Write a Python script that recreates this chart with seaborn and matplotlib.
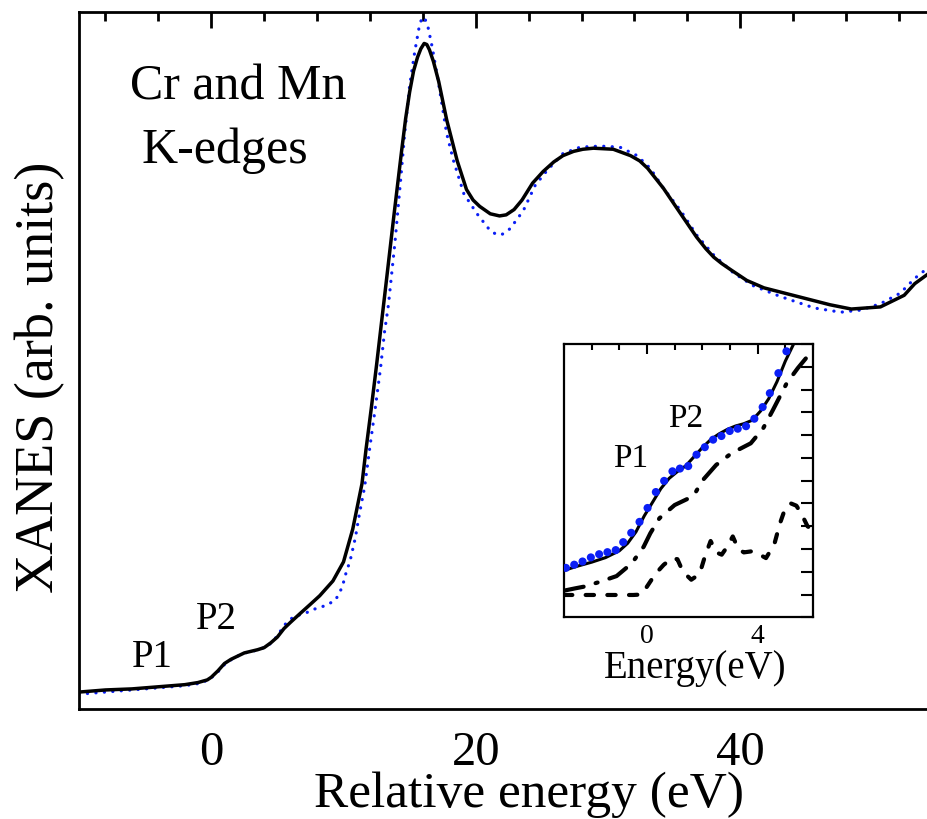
import matplotlib
matplotlib.use("Agg")
import matplotlib.pyplot as plt
from matplotlib.ticker import MultipleLocator, FixedLocator, NullFormatter
import pandas as pd
import seaborn as sns

# ---------------- main panel data ----------------
energy_exp = [-10, -8, -6, -4, -2, -1, -0.3, 0, 0.5, 1.0, 1.5, 2.0, 2.5, 3.0, 3.5, 4.0,
              4.5, 5.0, 5.5, 6.0, 6.7, 7.5, 8.2, 9.2, 10.0, 10.7, 11.4, 11.7, 12.1, 12.5,
              12.9, 13.2, 13.8, 14.4, 14.7, 15.0, 15.3, 15.6, 15.85, 16.1, 16.3, 16.5, 16.8,
              17.2, 17.8, 18.6, 19.3, 19.8, 20.3, 21.1, 21.8, 22.3, 22.9, 23.5, 24.3, 25.1,
              25.9, 26.6, 27.4, 28.1, 28.9, 30.4, 31.7, 32.4, 33.0, 34.2, 35.5, 36.7, 37.4,
              38.0, 38.6, 39.3, 40.5, 41.8, 44.3, 46.8, 48.4, 50.6, 52.4, 53.2, 54.3]
xanes_exp = [-0.04, -0.02, -0.01, 0.01, 0.03, 0.05, 0.075, 0.10, 0.16, 0.23, 0.27, 0.30, 0.33,
             0.345, 0.36, 0.38, 0.425, 0.48, 0.56, 0.62, 0.70, 0.79, 0.87, 1.01, 1.19, 1.50,
             1.93, 2.25, 2.64, 3.05, 3.48, 3.80, 4.45, 5.08, 5.38, 5.63, 5.83, 5.96, 6.04,
             6.09, 6.08, 6.03, 5.92, 5.73, 5.37, 4.98, 4.71, 4.61, 4.55, 4.48, 4.46, 4.47,
             4.52, 4.61, 4.77, 4.88, 4.97, 5.03, 5.07, 5.09, 5.10, 5.09, 5.03, 4.98, 4.91,
             4.72, 4.48, 4.26, 4.15, 4.07, 4.01, 3.95, 3.85, 3.78, 3.70, 3.62, 3.58, 3.60,
             3.71, 3.82, 3.92]

energy_calc = [-10, -8, -6, -4, -2, -1, -0.3, 0, 0.5, 1.0, 1.5, 2.0, 2.5, 3.0, 3.5, 4.0, 4.5,
               5.0, 5.5, 6.2, 7.2, 7.7, 8.7, 9.4, 9.9, 10.2, 10.5, 10.9, 11.2, 11.6, 12.0,
               12.4, 12.8, 13.1, 13.4, 13.9, 14.3, 14.6, 15.0, 15.4, 15.7, 15.85, 16.0, 16.2,
               16.4, 16.7, 17.1, 17.4, 17.8, 18.3, 19.1, 20.1, 21.1, 21.5, 21.9, 22.2, 22.6,
               23.6, 24.5, 25.4, 26.6, 27.9, 29.4, 30.9, 32.2, 33.2, 34.2, 35.5, 36.7, 38.0,
               39.5, 41.0, 43.0, 45.6, 47.6, 49.1, 50.6, 52.1, 53.2, 54.3]
xanes_calc = [-0.06, -0.04, -0.02, 0.0, 0.02, 0.04, 0.07, 0.095, 0.15, 0.22, 0.265, 0.30, 0.33,
              0.34, 0.36, 0.38, 0.42, 0.49, 0.59, 0.67, 0.71, 0.74, 0.78, 0.83, 0.95, 1.09,
              1.20, 1.42, 1.64, 1.90, 2.28, 2.64, 3.02, 3.36, 3.62, 4.22, 4.77, 5.20, 5.69,
              6.02, 6.23, 6.30, 6.34, 6.31, 6.24, 6.06, 5.78, 5.55, 5.24, 4.99, 4.67, 4.48,
              4.32, 4.29, 4.28, 4.30, 4.34, 4.51, 4.75, 4.89, 5.05, 5.11, 5.12, 5.11, 5.03,
              4.91, 4.72, 4.51, 4.28, 4.09, 3.92, 3.80, 3.70, 3.59, 3.55, 3.57, 3.63, 3.73,
              3.87, 3.98]

# ---------------- inset data ----------------
inset_e_solid = [-3, -2.5, -2, -1.5, -1, -0.7, -0.4, -0.1, 0.2, 0.5, 0.8, 1.1, 1.4, 1.7, 2.0,
                 2.3, 2.6, 2.9, 3.2, 3.5, 3.8, 4.1, 4.4, 4.7, 5.0, 5.3, 5.5]
inset_y_solid = [2.06, 2.25, 2.42, 2.62, 2.92, 3.25, 3.75, 4.45, 5.05, 5.65, 6.1, 6.4, 6.65,
                 7.05, 7.45, 7.8, 8.05, 8.25, 8.4, 8.5, 8.65, 9.05, 9.6, 10.35, 11.25, 12.0, 12.6]

inset_e_dots = [-2.93, -2.63, -2.33, -2.03, -1.73, -1.43, -1.13, -0.86, -0.57, -0.27, 0.02,
                0.32, 0.62, 0.92, 1.19, 1.49, 1.79, 2.09, 2.39, 2.69, 2.99, 3.28, 3.58, 3.88,
                4.18, 4.44, 4.75, 5.04]
inset_y_dots = [2.17, 2.31, 2.45, 2.63, 2.77, 2.86, 2.95, 3.30, 3.71, 4.19, 4.80, 5.50, 5.99,
                6.41, 6.53, 6.64, 7.14, 7.47, 7.80, 7.96, 8.18, 8.28, 8.39, 8.72, 9.23, 9.84,
                10.72, 11.68]

inset_e_dashdot = [-3, -2.6, -2.3, -1.75, -1.1, -0.55, -0.12, 0.12, 0.45, 1.0, 1.5, 1.7, 2.0,
                   2.5, 3.05, 3.75, 4.2, 4.55, 4.8, 5.05, 5.45, 5.9, 6.0]
inset_y_dashdot = [1.17, 1.27, 1.34, 1.54, 1.81, 2.37, 3.10, 3.69, 4.35, 4.93, 5.22, 5.37,
                   6.0, 6.69, 7.2, 7.64, 8.3, 9.1, 9.69, 10.28, 10.94, 11.6, 11.7]

inset_e_dash = [-3, -2.5, -2, -1.5, -1, -0.5, -0.2, 0, 0.3, 0.6, 0.9, 1.1, 1.3, 1.6, 1.9, 2.1,
                2.3, 2.5, 2.7, 2.9, 3.1, 3.3, 3.5, 3.8, 4.0, 4.3, 4.6, 4.8, 5.0, 5.2, 5.4, 5.6,
                5.8, 6.0]
inset_y_dash = [0.98, 0.98, 0.98, 0.98, 0.98, 0.98, 1.0, 1.35, 1.9, 2.3, 2.6, 2.55, 2.0, 1.65,
                1.9, 2.7, 3.35, 2.85, 2.75, 3.1, 3.55, 3.0, 2.85, 2.9, 2.8, 2.6, 3.2, 4.1, 4.8,
                5.0, 4.9, 4.5, 4.0, 3.8]

main_xticks = [0, 20, 40]
inset_xticks = [0, 4]

BLUE = "#0a1ef5"

sns.set_theme(style="white")
plt.rcParams["font.family"] = ["Liberation Serif", "DejaVu Serif"]
plt.rcParams.update({"text.color": "black", "axes.labelcolor": "black",
                     "xtick.color": "black", "ytick.color": "black",
                     "axes.edgecolor": "black"})

W, H = 928, 819
fig = plt.figure(figsize=(W / 100, H / 100), dpi=100)

# ---------------- main axes ----------------
ax = fig.add_axes([79 / W, 1 - 709 / H, 1 - 79 / W, (709 - 11.7) / H])
df_exp = pd.DataFrame({"E": energy_exp, "mu": xanes_exp})
df_calc = pd.DataFrame({"E": energy_calc, "mu": xanes_calc})
sns.lineplot(data=df_calc, x="E", y="mu", ax=ax, color=BLUE, linewidth=2.3,
             linestyle=(0, (0.05, 2.6)), dash_capstyle="round", sort=False, estimator=None)
sns.lineplot(data=df_exp, x="E", y="mu", ax=ax, color="black", linewidth=2.5,
             sort=False, estimator=None, solid_joinstyle="round")

ax.set_xlim(-10, 54.2)
ax.set_ylim(-0.2, 6.39)
ax.xaxis.set_major_locator(FixedLocator(main_xticks))
ax.xaxis.set_minor_locator(MultipleLocator(4))
ax.yaxis.set_major_locator(FixedLocator([0, 2, 4, 6]))
ax.yaxis.set_minor_locator(FixedLocator([1, 3, 5]))
ax.yaxis.set_major_formatter(NullFormatter())
ax.tick_params(which="both", direction="in", top=True, right=False, width=2, color="black")
ax.tick_params(which="major", length=11.5)
ax.tick_params(which="minor", length=6.5)
ax.tick_params(axis="x", which="major", labelsize=35, pad=16, labelcolor="black")
for s in ["left", "bottom", "top"]:
    ax.spines[s].set_linewidth(2)
    ax.spines[s].set_color("black")
ax.spines["right"].set_visible(False)

ax.set_xlabel("Relative energy (eV)", fontsize=37, va="baseline", color="black")
ax.xaxis.set_label_coords(0.530, -0.1405)
ax.set_ylabel("XANES (arb. units)", fontsize=39, va="baseline", color="black")
ax.yaxis.set_label_coords(-0.0306, 0.476)

ax.text(0.0601, 0.8734, "Cr and Mn", transform=ax.transAxes, fontsize=36, va="baseline",
        color="black")
ax.text(0.0739, 0.783, "K-edges", transform=ax.transAxes, fontsize=36, va="baseline",
        color="black")
ax.text(-5.98, 0.20, "P1", fontsize=28, va="baseline", color="black")
ax.text(-1.14, 0.555, "P2", fontsize=28, va="baseline", color="black")

# ---------------- inset ----------------
axin = fig.add_axes([564 / W, 1 - 617.3 / H, 249 / W, 273.3 / H])
axin.set_facecolor("white")
df_dash = pd.DataFrame({"E": inset_e_dash, "y": inset_y_dash})
df_dd = pd.DataFrame({"E": inset_e_dashdot, "y": inset_y_dashdot})
df_sol = pd.DataFrame({"E": inset_e_solid, "y": inset_y_solid})
df_dot = pd.DataFrame({"E": inset_e_dots, "y": inset_y_dots})
sns.lineplot(data=df_dash, x="E", y="y", ax=axin, color="black", linewidth=3.0,
             linestyle=(0, (2.0, 3.2)), dash_capstyle="round", sort=False, estimator=None)
sns.lineplot(data=df_dd, x="E", y="y", ax=axin, color="black", linewidth=3.0,
             linestyle=(0, (4.8, 3.0, 0.5, 3.0)), dash_capstyle="round", sort=False,
             estimator=None)
sns.lineplot(data=df_sol, x="E", y="y", ax=axin, color="black", linewidth=2.2,
             sort=False, estimator=None)
sns.scatterplot(data=df_dot, x="E", y="y", ax=axin, color=BLUE, s=34, edgecolor="none",
                zorder=4)
axin.set_xlim(-3, 6)
axin.set_ylim(0, 12)
axin.xaxis.set_major_locator(FixedLocator(inset_xticks))
axin.xaxis.set_minor_locator(MultipleLocator(1))
axin.yaxis.set_major_locator(MultipleLocator(1))
axin.yaxis.set_major_formatter(NullFormatter())
axin.tick_params(which="both", direction="in", top=True, right=True, width=1.5, color="black")
axin.tick_params(axis="x", which="major", length=7, labelsize=20, pad=5, labelcolor="black")
axin.tick_params(axis="x", which="minor", length=4.3)
axin.tick_params(axis="y", which="major", length=8.6)
for s in axin.spines.values():
    s.set_linewidth(1.6)
    s.set_color("black")
axin.set_xlabel("Energy(eV)", fontsize=28, va="baseline", color="black")
axin.xaxis.set_label_coords(0.526, -0.222)
axin.set_ylabel("")
axin.text(-1.22, 6.61, "P1", fontsize=24, va="baseline", color="black")
axin.text(0.78, 8.34, "P2", fontsize=24, va="baseline", color="black")

fig.savefig("out.png", dpi=100)
